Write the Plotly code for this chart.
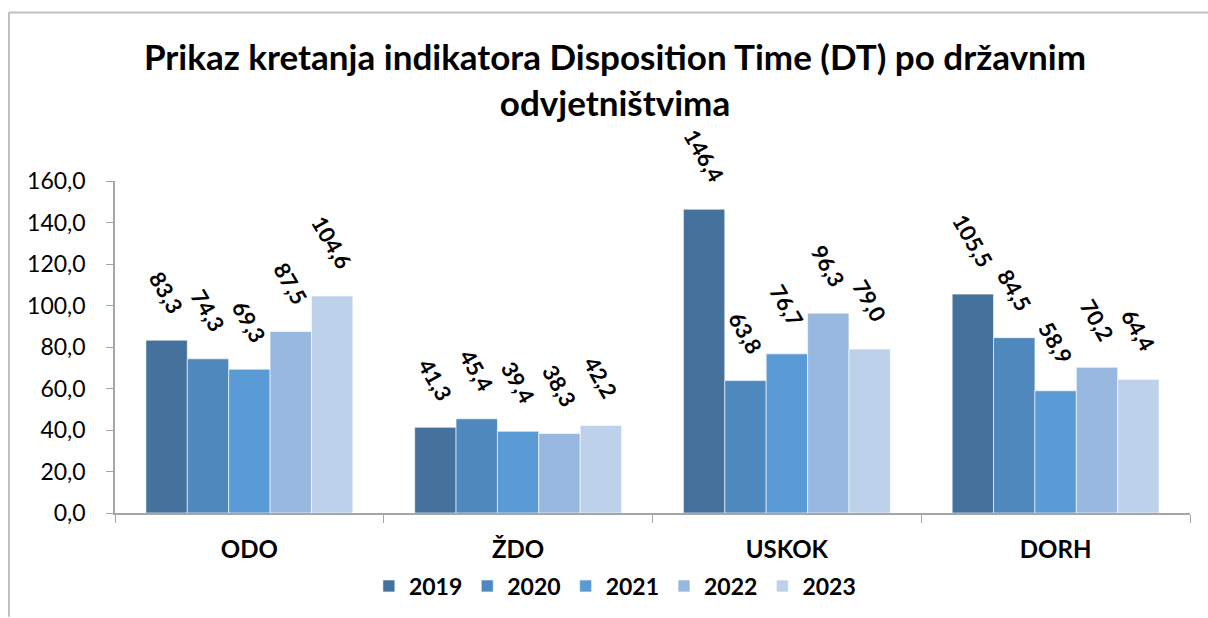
import plotly.graph_objects as go

categories = ["ODO", "ŽDO", "USKOK", "DORH"]
years = ["2019", "2020", "2021", "2022", "2023"]
v2019 = [83.3, 41.3, 146.4, 105.5]
v2020 = [74.3, 45.4, 63.8, 84.5]
v2021 = [69.3, 39.4, 76.7, 58.9]
v2022 = [87.5, 38.3, 96.3, 70.2]
v2023 = [104.6, 42.2, 79.0, 64.4]
series = [v2019, v2020, v2021, v2022, v2023]
colors = ["#44729D", "#4F88BD", "#5B9BD5", "#99B8DF", "#BDD1EB"]

FONT = "Lato"
BARGAP = 0.23

FW, FH = 1208, 618
L, R, T, B = 115, 1190, 181, 514
W, H = R - L, B - T
def px(x): return (x - L) / W
def py(y): return (B - y) / H

fig = go.Figure()
n = len(series)
for i, (name, vals, col) in enumerate(zip(years, series, colors)):
    fig.add_trace(go.Bar(
        name=name, x=categories, y=vals,
        marker=dict(color=col, line=dict(color="rgba(255,255,255,0.6)", width=1)),
        hoverinfo="y",
    ))
    off = (i - (n - 1) / 2) * (1 - BARGAP) / n
    for j, v in enumerate(vals):
        fig.add_annotation(
            x=j + off, y=v, xref="x", yref="y",
            text=f"{v:.1f}".replace(".", ","),
            textangle=60, showarrow=False,
            xanchor="center", yanchor="bottom", yshift=20,
            font=dict(family=FONT, size=22, color="black", weight="bold"),
        )

fig.update_layout(
    width=FW, height=FH,
    margin=dict(l=L, r=FW - R, t=T, b=FH - B),
    paper_bgcolor="white", plot_bgcolor="white",
    separators=",.",
    barmode="group", bargap=BARGAP, bargroupgap=0,
    title=dict(text="Prikaz kretanja indikatora Disposition Time (DT) po državnim<br>odvjetništvima",
               x=615 / FW, xanchor="center", y=1 - 70 / FH, yanchor="middle",
               font=dict(family=FONT, size=35, color="black", weight="bold")),
    legend=dict(orientation="h", x=0.465, xanchor="center", y=py(586), yanchor="middle",
                font=dict(family=FONT, size=23, color="black", weight="bold"),
                traceorder="normal"),
    font=dict(family=FONT, color="black"),
    showlegend=True,
)
fig.update_xaxes(showline=True, linecolor="#A6A6A6", linewidth=1.5,
                 ticks="outside", tickson="boundaries", ticklen=8, tickcolor="#A6A6A6",
                 ticklabelstandoff=14,
                 tickfont=dict(family=FONT, size=24, color="black", weight="bold"),
                 showgrid=False)
fig.update_yaxes(range=[0, 160], dtick=20, tickformat=".1f",
                 showline=True, linecolor="#A6A6A6", linewidth=1.5,
                 ticks="outside", ticklen=7, tickcolor="#A6A6A6",
                 ticklabelstandoff=16,
                 tickfont=dict(family=FONT, size=23, color="black"),
                 showgrid=False, zeroline=False)

border = dict(color="#BFBFBF", width=2)
fig.add_shape(type="line", xref="paper", yref="paper", x0=px(9), x1=px(FW), y0=py(12), y1=py(12), line=border)
fig.add_shape(type="line", xref="paper", yref="paper", x0=px(9), x1=px(9), y0=py(12), y1=py(FH), line=border)

fig.write_html(
    "out.html",
    config={"displayModeBar": False},
    post_script=("document.documentElement.style.margin='0';document.body.style.margin='0';"
                 "document.documentElement.style.overflow='hidden';document.body.style.overflow='hidden';"),
)
